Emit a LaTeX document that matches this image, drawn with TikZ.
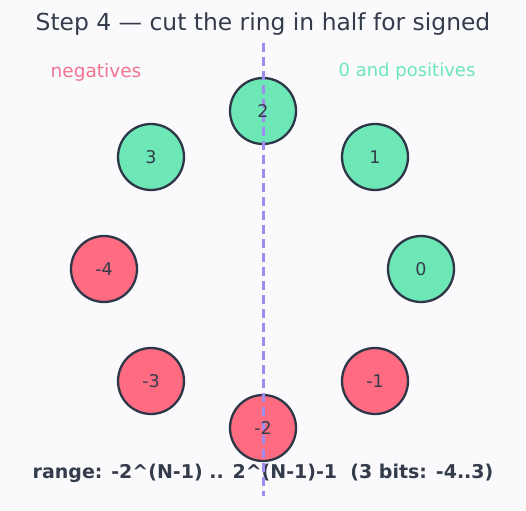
\documentclass[tikz,border=0pt]{standalone}
\usepackage{fontspec}
\setmainfont{DejaVu Sans}
\definecolor{bg}{HTML}{FAFAFD}
\definecolor{ink}{HTML}{343B4A}
\definecolor{pos}{HTML}{6EE7B7}
\definecolor{neg}{HTML}{FF6B81}
\definecolor{negtxt}{HTML}{F07590}
\definecolor{cut}{HTML}{9F8CF0}
\definecolor{edge}{HTML}{2D3748}
\begin{document}
\begin{tikzpicture}[x=1pt,y=-1pt,
  ringnode/.style={circle,draw=edge,line width=2.3pt,minimum size=66pt,inner sep=0pt},
  posnode/.style={ringnode,fill=pos},
  negnode/.style={ringnode,fill=neg},
  numtext/.style={text=ink,font=\fontsize{17.5}{20}\selectfont},
  cutline/.style={draw=cut,line width=3pt,dash pattern=on 9pt off 5pt}]
\fill[bg] (0,0) rectangle (526,510);
\useasboundingbox (0,0) rectangle (526,510);
\node[text=ink,font=\fontsize{23.4}{26}\selectfont] (title) at (263,24) {Step 4 — cut the ring in half for signed};
\node[text=negtxt,font=\fontsize{18.5}{21}\selectfont] (neglab) at (96,72) {negatives};
\node[text=pos,font=\fontsize{18}{21}\selectfont] (poslab) at (407,72) {0 and positives};
\node[posnode] (n2) at (263,111) {};
\node[posnode] (n1) at (375,157) {};
\node[posnode] (n0) at (421,269) {};
\node[negnode] (m1) at (375,381) {};
\node[negnode] (m2) at (263,428) {};
\node[negnode] (m3) at (151,381) {};
\node[negnode] (m4) at (104,269) {};
\node[posnode] (n3) at (151,157) {};
\coordinate (cuttop) at (263,43);
\coordinate (cutbot) at (263,496);
\node[text=ink,font=\bfseries\fontsize{19}{22}\selectfont] (range) at (263,473) {range: -2\^{}(N-1) .. 2\^{}(N-1)-1\ \ (3 bits: -4..3)};
\draw[cutline] (cuttop) -- (cutbot);
\foreach \n/\t in {n2/2,n1/1,n0/0,m1/-1,m2/-2,m3/-3,m4/-4,n3/3}
  \node[numtext] at (\n) {\t};
\end{tikzpicture}
\end{document}
